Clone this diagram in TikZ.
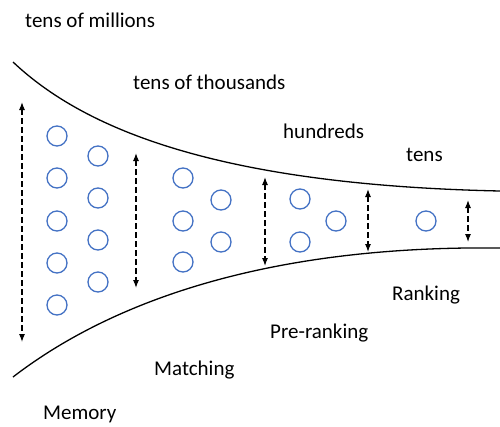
\documentclass[tikz,border=0pt]{standalone}
\usepackage{fontspec}
\setmainfont{Carlito}
\usetikzlibrary{arrows.meta}
\definecolor{cblue}{RGB}{68,114,196}
\begin{document}
\begin{tikzpicture}[x=1pt,y=-1pt,
  ball/.style={circle,draw=cblue,line width=1.3pt,minimum size=20pt,inner sep=0pt},
  span/.style={dashed,dash pattern=on 6pt off 3pt,line width=1.1pt,{Latex[length=8pt,width=6pt]}-{Latex[length=8pt,width=6pt]}},
  edge/.style={line width=1.3pt},
  lbl/.style={font=\fontsize{21}{24}\selectfont,inner sep=0pt}]
\useasboundingbox (0,0) rectangle (500,426);
% funnel
\coordinate (ut) at (13,62); \coordinate (ue) at (500,191);
\coordinate (lt) at (13,377); \coordinate (le) at (500,248);
\draw[edge] (ut) .. controls (85,130) and (220,185) .. (ue);
\draw[edge] (lt) .. controls (100,310) and (250,245) .. (le);
% balls
\node[ball] (a1) at (57,136) {};
\node[ball] (a2) at (57,178) {};
\node[ball] (a3) at (57,221) {};
\node[ball] (a4) at (57,263) {};
\node[ball] (a5) at (57,305) {};
\node[ball] (b1) at (98,156) {};
\node[ball] (b2) at (98,198) {};
\node[ball] (b3) at (98,240) {};
\node[ball] (b4) at (98,282) {};
\node[ball] (c1) at (183,178) {};
\node[ball] (c2) at (183,221) {};
\node[ball] (c3) at (183,262) {};
\node[ball] (d1) at (221,200) {};
\node[ball] (d2) at (221,242) {};
\node[ball] (e1) at (300,199) {};
\node[ball] (e2) at (300,242) {};
\node[ball] (f1) at (336,221) {};
\node[ball] (g1) at (426,221) {};
% spans
\coordinate (s1t) at (22,102); \coordinate (s1b) at (22,342);
\coordinate (s2t) at (136,153); \coordinate (s2b) at (136,288);
\coordinate (s3t) at (265,177); \coordinate (s3b) at (265,266);
\coordinate (s4t) at (368,189); \coordinate (s4b) at (368,252);
\coordinate (s5t) at (468,200); \coordinate (s5b) at (468,242);
\draw[span] (s1t) -- (s1b);
\draw[span] (s2t) -- (s2b);
\draw[span] (s3t) -- (s3b);
\draw[span] (s4t) -- (s4b);
\draw[span] (s5t) -- (s5b);
% labels
\node[lbl,anchor=west] (t1) at (25,20) {tens of millions};
\node[lbl,anchor=west] (t2) at (133,82) {tens of thousands};
\node[lbl,anchor=west] (t3) at (283,131) {hundreds};
\node[lbl,anchor=west] (t4) at (406,155) {tens};
\node[lbl,anchor=west] (l1) at (392,295) {Ranking};
\node[lbl,anchor=west] (l2) at (270,333) {Pre-ranking};
\node[lbl,anchor=west] (l3) at (154,370) {Matching};
\node[lbl,anchor=west] (l4) at (43,414) {Memory};
\end{tikzpicture}
\end{document}
